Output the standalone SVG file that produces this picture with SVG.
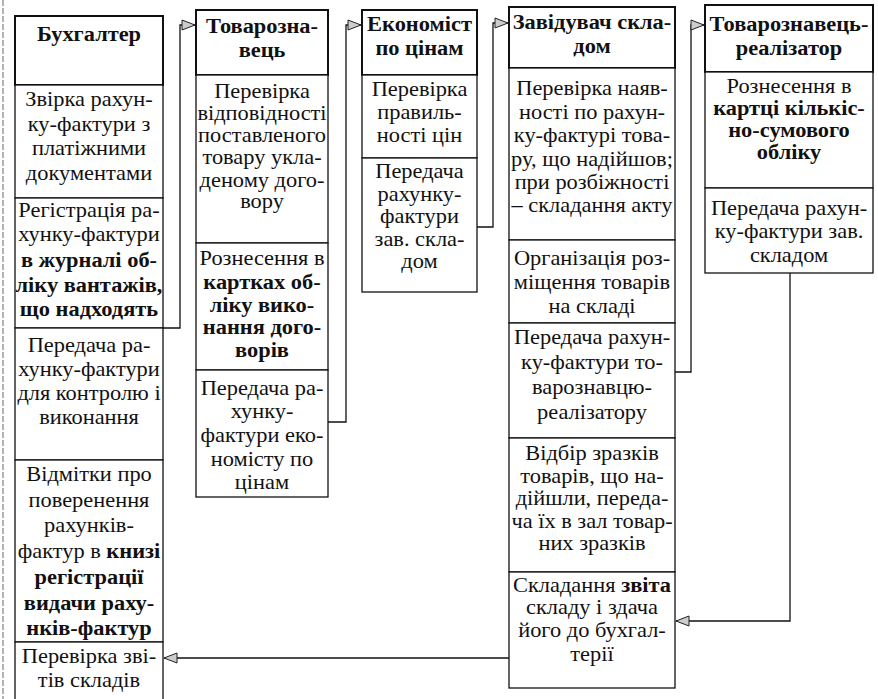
<svg xmlns="http://www.w3.org/2000/svg" width="878" height="699" viewBox="0 0 878 699">
<style>
.box{fill:#fff;stroke:#111;stroke-width:1.3}
.hdr{fill:#fff;stroke:#111;stroke-width:2}
.t{font-family:"Liberation Serif","Times New Roman",serif;font-size:20px;text-anchor:middle;fill:#111}
.b{font-weight:bold}
.conn{fill:none;stroke:#111;stroke-width:1.3}
.edge{stroke:#666;stroke-width:1;stroke-dasharray:6 2}
</style>
<defs>
<marker id="arr" markerWidth="15" markerHeight="12" refX="14" refY="6" orient="auto" markerUnits="userSpaceOnUse">
<path d="M1,1 L14,6 L1,11 z" fill="#ccc" stroke="#222" stroke-width="1"/>
</marker>
</defs>
<rect width="878" height="699" fill="#fff"/>
<line class="edge" x1="3" y1="0" x2="3" y2="699"/>

<g id="connectors">
<path class="conn" d="M163,328 H180 V25 H195" marker-end="url(#arr)"/>
<path class="conn" d="M328,422 H346 V25 H361" marker-end="url(#arr)"/>
<path class="conn" d="M477,227 H493 V23 H508" marker-end="url(#arr)"/>
<path class="conn" d="M675,372 H691 V25 H704" marker-end="url(#arr)"/>
<path class="conn" d="M790,273 V621 H676" marker-end="url(#arr)"/>
<path class="conn" d="M509,658 H164" marker-end="url(#arr)"/>
</g>

<g id="buhhalter">
<rect class="hdr" x="15" y="16" width="148" height="69"/>
<text class="t b" transform="translate(89 41) scale(1.12 1)">Бухгалтер</text>
<rect class="box" x="15" y="85" width="148" height="113"/>
<text class="t" transform="translate(89 106) scale(1.12 1)">Звірка рахун-</text>
<text class="t" transform="translate(89 131) scale(1.12 1)">ку-фактури з</text>
<text class="t" transform="translate(89 155) scale(1.12 1)">платіжними</text>
<text class="t" transform="translate(89 180) scale(1.12 1)">документами</text>
<rect class="box" x="15" y="198" width="148" height="130"/>
<text class="t" transform="translate(89 217) scale(1.12 1)">Регістрація ра-</text>
<text class="t" transform="translate(89 241) scale(1.12 1)">хунку-фактури</text>
<text class="t b" transform="translate(89 267) scale(1.12 1)">в журналі об-</text>
<text class="t b" transform="translate(89 292) scale(1.12 1)">ліку вантажів,</text>
<text class="t b" transform="translate(89 316) scale(1.12 1)">що надходять</text>
<rect class="box" x="15" y="328" width="148" height="132"/>
<text class="t" transform="translate(89 352) scale(1.12 1)">Передача ра-</text>
<text class="t" transform="translate(89 376) scale(1.12 1)">хунку-фактури</text>
<text class="t" transform="translate(89 400) scale(1.12 1)">для контролю і</text>
<text class="t" transform="translate(89 424) scale(1.12 1)">виконання</text>
<rect class="box" x="15" y="460" width="148" height="182"/>
<text class="t" transform="translate(89 481) scale(1.12 1)">Відмітки про</text>
<text class="t" transform="translate(89 507) scale(1.12 1)">поверенення</text>
<text class="t" transform="translate(89 532) scale(1.12 1)">рахунків-</text>
<text class="t" transform="translate(89 558) scale(1.12 1)">фактур в <tspan class="b">книзі</tspan></text>
<text class="t b" transform="translate(89 584) scale(1.12 1)">регістрації</text>
<text class="t b" transform="translate(89 610) scale(1.12 1)">видачи раху-</text>
<text class="t b" transform="translate(89 635) scale(1.12 1)">нків-фактур</text>
<rect class="box" x="15" y="642" width="148" height="62"/>
<text class="t" transform="translate(89 663) scale(1.12 1)">Перевірка зві-</text>
<text class="t" transform="translate(89 687) scale(1.12 1)">тів складів</text>
</g>

<g id="tovaroznavets">
<rect class="hdr" x="196" y="10" width="132" height="65"/>
<text class="t b" transform="translate(262 33) scale(1.12 1)">Товарозна-</text>
<text class="t b" transform="translate(262 57) scale(1.12 1)">вець</text>
<rect class="box" x="196" y="75" width="132" height="168"/>
<text class="t" transform="translate(262 98) scale(1.12 1)">Перевірка</text>
<text class="t" transform="translate(262 120) scale(1.12 1)">відповідності</text>
<text class="t" transform="translate(262 142) scale(1.12 1)">поставленого</text>
<text class="t" transform="translate(262 164) scale(1.12 1)">товару укла-</text>
<text class="t" transform="translate(262 187) scale(1.12 1)">деному дого-</text>
<text class="t" transform="translate(262 208) scale(1.12 1)">вору</text>
<rect class="box" x="196" y="243" width="132" height="127"/>
<text class="t" transform="translate(262 265) scale(1.12 1)">Рознесення в</text>
<text class="t b" transform="translate(262 289) scale(1.12 1)">картках об-</text>
<text class="t b" transform="translate(262 312) scale(1.12 1)">ліку вико-</text>
<text class="t b" transform="translate(262 334) scale(1.12 1)">нання дого-</text>
<text class="t b" transform="translate(262 357) scale(1.12 1)">ворів</text>
<rect class="box" x="196" y="370" width="132" height="127"/>
<text class="t" transform="translate(262 395) scale(1.12 1)">Передача ра-</text>
<text class="t" transform="translate(262 418) scale(1.12 1)">хунку-</text>
<text class="t" transform="translate(262 442) scale(1.12 1)">фактури еко-</text>
<text class="t" transform="translate(262 466) scale(1.12 1)">номісту по</text>
<text class="t" transform="translate(262 489) scale(1.12 1)">цінам</text>
</g>

<g id="ekonomist">
<rect class="hdr" x="362" y="10" width="115" height="65"/>
<text class="t b" transform="translate(419.5 31) scale(1.12 1)">Економіст</text>
<text class="t b" transform="translate(419.5 55) scale(1.12 1)">по цінам</text>
<rect class="box" x="362" y="75" width="115" height="83"/>
<text class="t" transform="translate(419.5 96) scale(1.12 1)">Перевірка</text>
<text class="t" transform="translate(419.5 119) scale(1.12 1)">правиль-</text>
<text class="t" transform="translate(419.5 142) scale(1.12 1)">ності цін</text>
<rect class="box" x="362" y="158" width="115" height="134"/>
<text class="t" transform="translate(419.5 178) scale(1.12 1)">Передача</text>
<text class="t" transform="translate(419.5 201) scale(1.12 1)">рахунку-</text>
<text class="t" transform="translate(419.5 223) scale(1.12 1)">фактури</text>
<text class="t" transform="translate(419.5 246) scale(1.12 1)">зав. скла-</text>
<text class="t" transform="translate(419.5 268) scale(1.12 1)">дом</text>
</g>

<g id="zaviduvach">
<rect class="hdr" x="509" y="7" width="166" height="61"/>
<text class="t b" transform="translate(592 29) scale(1.12 1)">Завідувач скла-</text>
<text class="t b" transform="translate(592 53) scale(1.12 1)">дом</text>
<rect class="box" x="509" y="68" width="166" height="172"/>
<text class="t" transform="translate(592 95) scale(1.12 1)">Перевірка наяв-</text>
<text class="t" transform="translate(592 119) scale(1.12 1)">ності  по рахун-</text>
<text class="t" transform="translate(592 142) scale(1.12 1)">ку-фактурі това-</text>
<text class="t" transform="translate(592 166) scale(1.12 1)">ру, що надійшов;</text>
<text class="t" transform="translate(592 189) scale(1.12 1)">при розбіжності</text>
<text class="t" transform="translate(592 212) scale(1.12 1)">– складання акту</text>
<rect class="box" x="509" y="240" width="166" height="83"/>
<text class="t" transform="translate(592 265) scale(1.12 1)">Організація роз-</text>
<text class="t" transform="translate(592 289) scale(1.12 1)">міщення товарів</text>
<text class="t" transform="translate(592 313) scale(1.12 1)">на складі</text>
<rect class="box" x="509" y="323" width="166" height="115"/>
<text class="t" transform="translate(592 344) scale(1.12 1)">Передача рахун-</text>
<text class="t" transform="translate(592 369) scale(1.12 1)">ку-фактури то-</text>
<text class="t" transform="translate(592 394) scale(1.12 1)">варознавцю-</text>
<text class="t" transform="translate(592 419) scale(1.12 1)">реалізатору</text>
<rect class="box" x="509" y="438" width="166" height="134"/>
<text class="t" transform="translate(592 460) scale(1.12 1)">Відбір зразків</text>
<text class="t" transform="translate(592 483) scale(1.12 1)">товарів, що на-</text>
<text class="t" transform="translate(592 505) scale(1.12 1)">дійшли, переда-</text>
<text class="t" transform="translate(592 528) scale(1.12 1)">ча їх в зал товар-</text>
<text class="t" transform="translate(592 550) scale(1.12 1)">них зразків</text>
<rect class="box" x="509" y="572" width="166" height="116"/>
<text class="t" transform="translate(592 592) scale(1.12 1)">Складання <tspan class="b">звіта</tspan></text>
<text class="t" transform="translate(592 614) scale(1.12 1)">складу і здача</text>
<text class="t" transform="translate(592 637) scale(1.12 1)">його до бухгал-</text>
<text class="t" transform="translate(592 661) scale(1.12 1)">терії</text>
</g>

<g id="tovaroznavets-realizator">
<rect class="hdr" x="705" y="5" width="168" height="67"/>
<text class="t b" transform="translate(789 31) scale(1.12 1)">Товарознавець-</text>
<text class="t b" transform="translate(789 55) scale(1.12 1)">реалізатор</text>
<rect class="box" x="705" y="72" width="168" height="116"/>
<text class="t" transform="translate(789 93) scale(1.12 1)">Рознесення в</text>
<text class="t b" transform="translate(789 115) scale(1.12 1)">картці кількіс-</text>
<text class="t b" transform="translate(789 137) scale(1.12 1)">но-сумового</text>
<text class="t b" transform="translate(789 159) scale(1.12 1)">обліку</text>
<rect class="box" x="705" y="188" width="168" height="85"/>
<text class="t" transform="translate(789 215) scale(1.12 1)">Передача рахун-</text>
<text class="t" transform="translate(789 238) scale(1.12 1)">ку-фактури зав.</text>
<text class="t" transform="translate(789 262) scale(1.12 1)">складом</text>
</g>
</svg>
